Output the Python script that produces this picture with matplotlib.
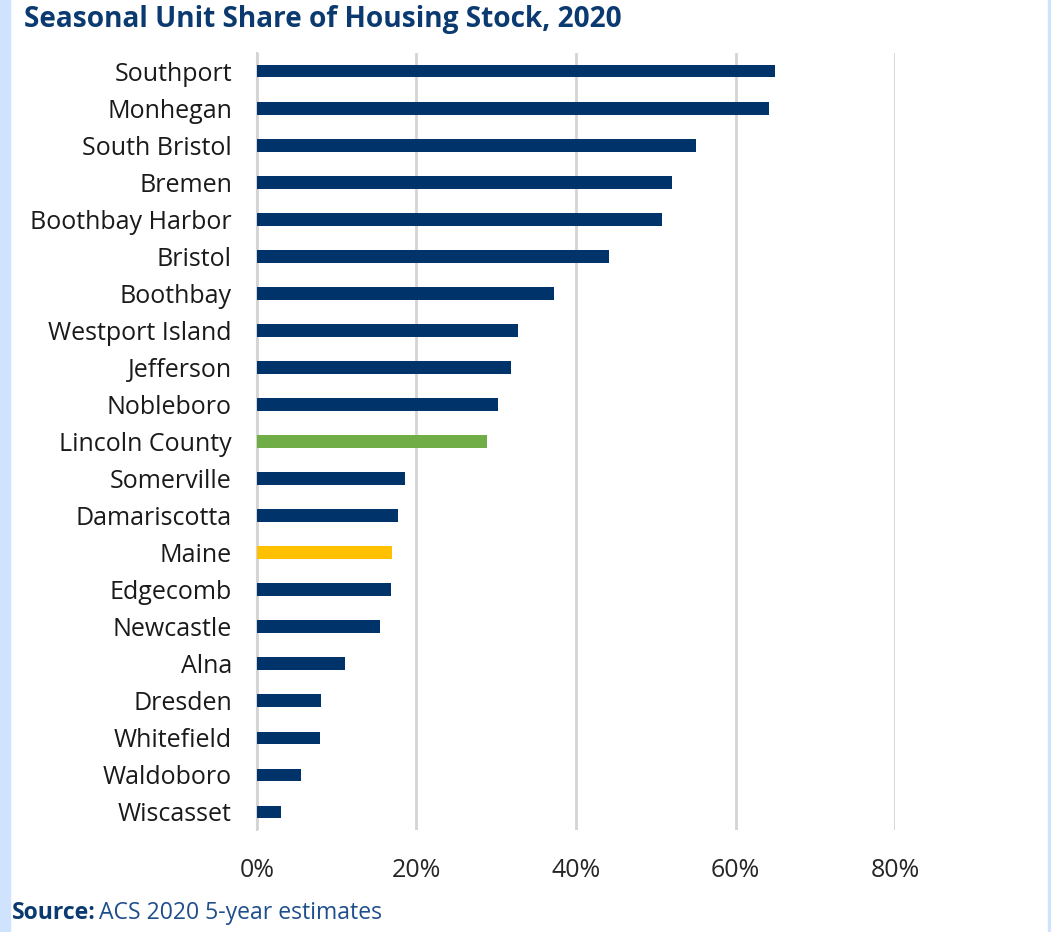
import matplotlib
matplotlib.use("Agg")
import matplotlib.pyplot as plt
from matplotlib.patches import Rectangle
from matplotlib.ticker import PercentFormatter

# seasonal units as share of housing stock
towns = ["Southport", "Monhegan", "South Bristol", "Bremen", "Boothbay Harbor",
         "Bristol", "Boothbay", "Westport Island", "Jefferson", "Nobleboro",
         "Lincoln County", "Somerville", "Damariscotta", "Maine", "Edgecomb",
         "Newcastle", "Alna", "Dresden", "Whitefield", "Waldoboro", "Wiscasset"]
share = [0.649, 0.642, 0.550, 0.520, 0.508, 0.442, 0.373, 0.327, 0.318, 0.302,
         0.289, 0.185, 0.177, 0.169, 0.168, 0.154, 0.110, 0.080, 0.079, 0.055, 0.030]
x_ticks = [0, 0.2, 0.4, 0.6, 0.8]

NAVY = "#003369"
GREEN = "#70ad47"
GOLD = "#ffc000"
TITLE = "#0b3a70"
GRID = "#d4d4d4"
BORDER = "#cfe2fe"
FONT = ["Open Sans", "DejaVu Sans"]

colors = [GREEN if t == "Lincoln County" else GOLD if t == "Maine" else NAVY for t in towns]

plt.rcParams["font.family"] = FONT

fig = plt.figure(figsize=(10.51, 9.32), dpi=100)
ax = fig.add_axes([0.2445, 0.109, 0.6071, 0.8345])

y = list(range(len(towns)))
ax.barh(y, share, height=0.34, color=colors, zorder=3)
ax.set_ylim(len(towns) - 0.5, -0.5)
ax.set_xlim(0, 0.8)
ax.set_yticks(y)
ax.set_yticklabels(towns, fontsize=18, color="#1a1a1a")
ax.set_xticks(x_ticks)
ax.xaxis.set_major_formatter(PercentFormatter(1.0, decimals=0))
ax.tick_params(axis="x", labelsize=18, labelcolor="#262626", length=0, pad=20)
ax.tick_params(axis="y", length=0, pad=18)
ax.grid(axis="x", color=GRID, lw=2, zorder=0)
for s in ["top", "right", "bottom"]:
    ax.spines[s].set_visible(False)
ax.spines["left"].set_color(GRID)
ax.spines["left"].set_linewidth(1.5)

# light blue frame edges
fig.patches.append(Rectangle((0, 0), 10 / 1051, 1, transform=fig.transFigure,
                             color=BORDER, zorder=0))
fig.patches.append(Rectangle((1 - 3 / 1051, 0), 3 / 1051, 1, transform=fig.transFigure,
                             color=BORDER, zorder=0))

fig.text(24 / 1051, 1 - 20 / 932, "Seasonal Unit Share of Housing Stock, 2020",
         fontsize=20.2, fontweight="bold", color=TITLE, ha="left", va="center")
src = fig.text(12 / 1051, 1 - 913 / 932, "Source:", fontsize=16.6, fontweight="bold",
               color=TITLE, ha="left", va="center")
fig.canvas.draw()
bb = src.get_window_extent()
fig.text(bb.x1 / 1051 + 3 / 1051, 1 - 913 / 932, "ACS 2020 5-year estimates",
         fontsize=16.6, color="#1f4e8c", ha="left", va="center")

fig.savefig("out.png", dpi=100)
